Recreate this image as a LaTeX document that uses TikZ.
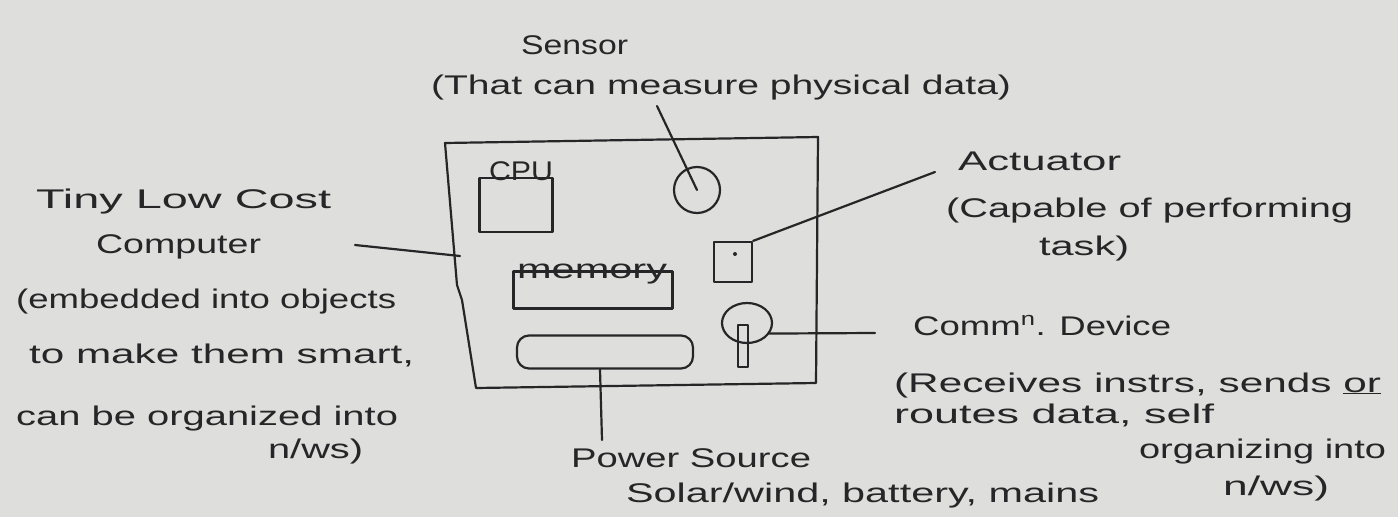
\documentclass[tikz,border=0pt]{standalone}
\usepackage{fontspec}
\setmainfont{Liberation Sans}
\usetikzlibrary{shapes.geometric}
\definecolor{paper}{RGB}{222,222,220}
\definecolor{inkc}{RGB}{38,38,40}
\newcommand\fitto[2]{\resizebox{#1pt}{\height}{#2}}
\begin{document}
\begin{tikzpicture}[x=1pt,y=-1pt,line width=2.2pt,
  ink/.style={draw=inkc,line cap=round,line join=round},
  part/.style={ink,inner sep=0pt},
  lbl/.style={anchor=base west,inner sep=0pt,text=inkc,font=\fontsize{27}{30}\selectfont}]
\fill[paper] (0,0) rectangle (1398,517);
\useasboundingbox (0,0) rectangle (1398,517);
% board
\draw[ink] (445,143) -- (818,137) -- (816,383) -- (476,388) -- (462,300) -- (457,285) -- cycle;
% parts
\node[part,draw,minimum width=73pt,minimum height=54pt] (cpu) at (516,205) {};
\node[lbl,anchor=base] (cputxt) at (521,180) {\fitto{64}{CPU}};
\node[part,draw,circle,minimum size=46pt] (sensor) at (697,190) {};
\node[part,draw,minimum width=38pt,minimum height=40pt] (act) at (733,262) {};
\fill[inkc] (735,254) circle (2);
\node[part,draw,minimum width=159pt,minimum height=37pt] (mem) at (593,290) {};
\node[lbl] (memtxt) at (516,278) {\fitto{150}{memory}};
\node[part,draw,rounded corners=12pt,minimum width=176pt,minimum height=33pt] (pwr) at (605,352) {};
\node[part,draw,ellipse,minimum width=50pt,minimum height=40pt] (comm) at (747,323) {};
\node[part,draw,minimum width=10pt,minimum height=42pt] (stem) at (743,346) {};
% labels
\node[lbl] (sensl) at (520,54) {\fitto{107}{Sensor}};
\node[lbl] (sensd) at (430,94) {\fitto{580}{(That can measure physical data)}};
\coordinate (sensc) at (657,106);
\node[lbl] (actl) at (957,170) {\fitto{163}{Actuator}};
\node[lbl] (actd1) at (945,217) {\fitto{407}{(Capable of performing}};
\node[lbl] (actd2) at (1038,255) {\fitto{90}{task)}};
\coordinate (actc) at (935,172);
\node[lbl] (cl1) at (35,208) {\fitto{295}{Tiny Low Cost}};
\node[lbl] (cl2) at (95,253) {\fitto{165}{Computer}};
\node[lbl] (cl3) at (15,308) {\fitto{380}{(embedded into objects}};
\node[lbl] (cl4) at (28,363) {\fitto{385}{to make them smart,}};
\node[lbl] (cl5) at (15,425) {\fitto{382}{can be organized into}};
\node[lbl] (cl6) at (267,458) {\fitto{95}{n/ws)}};
\coordinate (compc) at (355,245);
\coordinate (compe) at (460,256);
\node[lbl] (cm1) at (912,335) {\fitto{258}{Comm\textsuperscript{n}. Device}};
\node[lbl] (cm2) at (893,392) {\fitto{487}{(Receives instrs, sends \underline{or}}};
\node[lbl] (cm3) at (893,423) {\fitto{320}{routes data, self}};
\node[lbl] (cm4) at (1138,458) {\fitto{247}{organizing into}};
\node[lbl] (cm5) at (1222,495) {\fitto{106}{n/ws)}};
\coordinate (commc) at (875,333);
\node[lbl] (pw1) at (570,467) {\fitto{240}{Power Source}};
\node[lbl] (pw2) at (625,502) {\fitto{473}{Solar/wind, battery, mains}};
\coordinate (pwrc) at (602,440);
% connectors
\draw[ink] (sensc) -- (sensor.center);
\draw[ink] (act.north east) -- (actc);
\draw[ink] (compc) -- (compe);
\draw[ink] (comm.-25) -- (commc);
\draw[ink] ([xshift=-5pt]pwr.south) -- (pwrc);
\end{tikzpicture}
\end{document}
